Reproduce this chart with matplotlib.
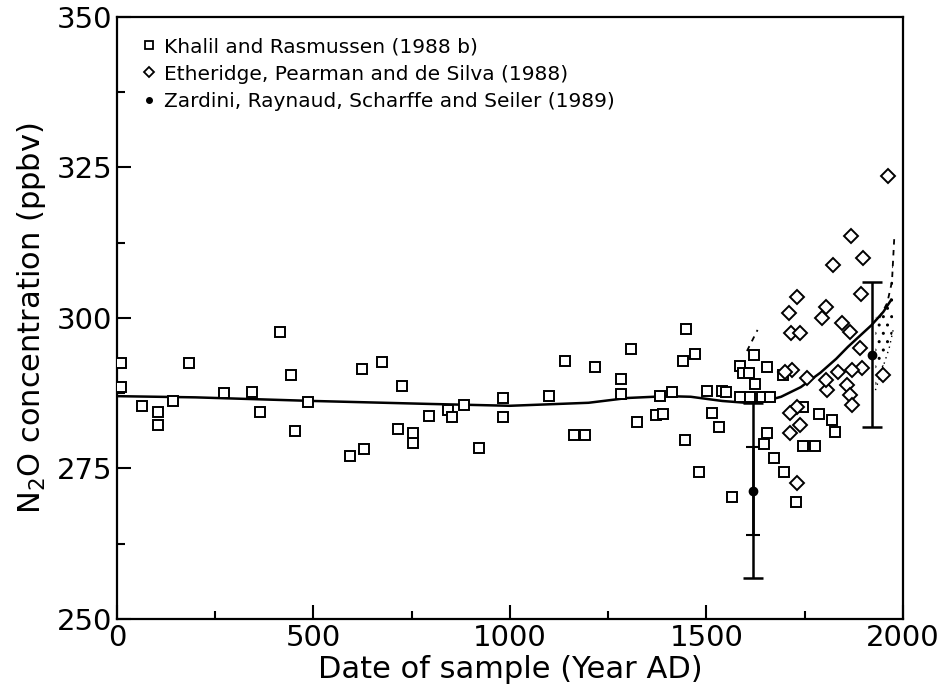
import numpy as np
import matplotlib.pyplot as plt
from matplotlib.ticker import MultipleLocator
from matplotlib.lines import Line2D

plt.rcParams['font.family'] = ['DejaVu Sans']
plt.rcParams['mathtext.default'] = 'regular'

# ---- Khalil and Rasmussen (1988 b) - squares
khalil_year = [10, 10, 64, 104, 104, 143, 183, 272, 343, 364, 415, 442, 453, 486,
               593, 623, 628, 674, 715, 725, 753, 753, 794, 842, 852, 883, 921,
               982, 982, 1099, 1140, 1163, 1191, 1216, 1282, 1282, 1308, 1323,
               1371, 1389, 1382, 1412, 1440, 1445, 1448, 1471, 1481, 1501, 1514,
               1532, 1540, 1550, 1565, 1585, 1593, 1608, 1621, 1623, 1585, 1611,
               1641, 1662, 1654, 1695, 1745, 1786, 1819, 1827, 1654, 1646, 1672,
               1697, 1727, 1745, 1776]
khalil_n2o = [292.5, 288.5, 285.4, 284.4, 282.2, 286.2, 292.5, 287.5, 287.7, 284.4,
              297.7, 290.5, 281.2, 286.0, 277.1, 291.5, 278.2, 292.7, 281.6, 288.7,
              279.2, 280.8, 283.7, 284.7, 283.5, 285.5, 278.4, 286.7, 283.5, 287.0,
              292.9, 280.6, 280.6, 291.9, 289.8, 287.4, 294.9, 282.7, 283.9, 284.0,
              287.0, 287.7, 292.9, 279.7, 298.2, 294.0, 274.4, 287.9, 284.2, 281.9,
              287.9, 287.7, 270.3, 292.0, 290.9, 290.9, 293.9, 289.0, 286.9, 286.9,
              286.9, 286.9, 291.9, 290.5, 285.2, 284.0, 283.0, 281.1, 280.9, 279.0,
              276.7, 274.4, 269.4, 278.8, 278.8]

# ---- Etheridge, Pearman and de Silva (1988) - diamonds
ether_year = [1962, 1868, 1898, 1822, 1731, 1710, 1804, 1794, 1715, 1738, 1845,
              1865, 1890, 1895, 1835, 1870, 1857, 1865, 1870, 1806, 1804, 1949,
              1717, 1700, 1756, 1730, 1712, 1738, 1712, 1730, 1893]
ether_n2o = [323.6, 313.6, 310.0, 308.8, 303.5, 300.8, 301.8, 300.0, 297.5, 297.5,
             299.2, 297.7, 295.0, 291.7, 291.0, 291.4, 288.9, 287.2, 285.5, 288.0,
             289.7, 290.5, 291.4, 291.0, 290.0, 285.2, 284.2, 282.2, 280.9, 272.6,
             304.0]

# ---- Zardini, Raynaud, Scharffe and Seiler (1989) - dots with error bars
zard_year = [1618, 1921]
zard_n2o = [271.3, 293.9]
zard_err = [14.5, 12.0]
zard_inner_err = [7.3, 0.0]

# ---- smoothed curve
curve_year = [0, 200, 500, 800, 1000, 1200, 1300, 1400, 1460, 1540, 1600, 1640,
              1690, 1740, 1790, 1830, 1860, 1890, 1920, 1950, 1970]
curve_n2o = [287.0, 286.8, 286.2, 285.7, 285.4, 285.9, 286.7, 287.0, 286.9, 286.2,
             285.9, 286.0, 286.9, 288.5, 290.9, 293.2, 295.2, 297.0, 298.8, 301.0,
             303.0]

# ---- envelope pieces (dashed / dotted)
env_up1_year = [1603, 1630]
env_up1_n2o = [294.5, 298.0]
env_up2_year = [1940, 1960, 1972, 1978]
env_up2_n2o = [300.0, 302.5, 306.0, 313.5]
env_low_year = [1930, 1950, 1965, 1975]
env_low_n2o = [288.0, 292.0, 295.0, 298.0]

fig, ax = plt.subplots(figsize=(9.47, 6.93), dpi=100)
fig.subplots_adjust(left=0.1235, right=0.9535, bottom=0.107, top=0.9755)

ax.plot(curve_year, curve_n2o, color="black", lw=1.8, zorder=3)
ax.plot(env_up1_year, env_up1_n2o, color="black", lw=1.3, ls=(0, (3, 3)))
ax.plot(env_up2_year, env_up2_n2o, color="black", lw=1.3, ls=(0, (3, 3)))
ax.plot(env_low_year, env_low_n2o, color="black", lw=1.0, ls=(0, (1, 3)))
ax.fill_between(env_low_year, env_low_n2o,
                np.interp(env_low_year, env_up2_year, env_up2_n2o),
                facecolor="none", edgecolor="black", hatch="..", lw=0)

ax.plot(khalil_year, khalil_n2o, ls="none", marker="s", ms=6.5, mfc="white",
        mec="black", mew=1.4, zorder=4)
ax.plot(ether_year, ether_n2o, ls="none", marker="D", ms=7, mfc="white",
        mec="black", mew=1.4, zorder=4)
ax.errorbar(zard_year, zard_n2o, yerr=zard_err, fmt="o", ms=6, color="black",
            ecolor="black", elinewidth=1.8, capsize=7, capthick=1.8, zorder=5)
ax.errorbar(zard_year[:1], zard_n2o[:1], yerr=zard_inner_err[:1], fmt="none",
            ecolor="black", elinewidth=1.8, capsize=5, capthick=1.5, zorder=5)

ax.set_xlim(0, 2000)
ax.set_ylim(250, 350)
ax.xaxis.set_major_locator(MultipleLocator(500))
ax.xaxis.set_minor_locator(MultipleLocator(250))
ax.yaxis.set_major_locator(MultipleLocator(25))
ax.yaxis.set_minor_locator(MultipleLocator(12.5))
ax.tick_params(which="both", direction="in", width=1.5, labelsize=21)
ax.tick_params(which="major", length=10)
ax.tick_params(which="minor", length=6)
ax.tick_params(axis="x", pad=4)
for s in ax.spines.values():
    s.set_linewidth(1.6)

ax.set_xlabel("Date of sample (Year AD)", fontsize=22, labelpad=2)
ax.set_ylabel("N$_2$O concentration (ppbv)", fontsize=22, labelpad=6)

handles = [
    Line2D([], [], ls="none", marker="s", ms=5.5, mfc="white", mec="black", mew=1.3),
    Line2D([], [], ls="none", marker="D", ms=5.5, mfc="white", mec="black", mew=1.3),
    Line2D([], [], ls="none", marker="o", ms=4, mfc="black", mec="black"),
]
labels = ["Khalil and Rasmussen (1988 b)",
          "Etheridge, Pearman and de Silva (1988)",
          "Zardini, Raynaud, Scharffe and Seiler (1989)"]
ax.legend(handles, labels, loc="upper left", frameon=False, fontsize=14.5,
          handlelength=0.8, handletextpad=0.35, labelspacing=0.42,
          borderaxespad=0.0, bbox_to_anchor=(0.02, 0.98))

plt.savefig("out.png", dpi=100)
